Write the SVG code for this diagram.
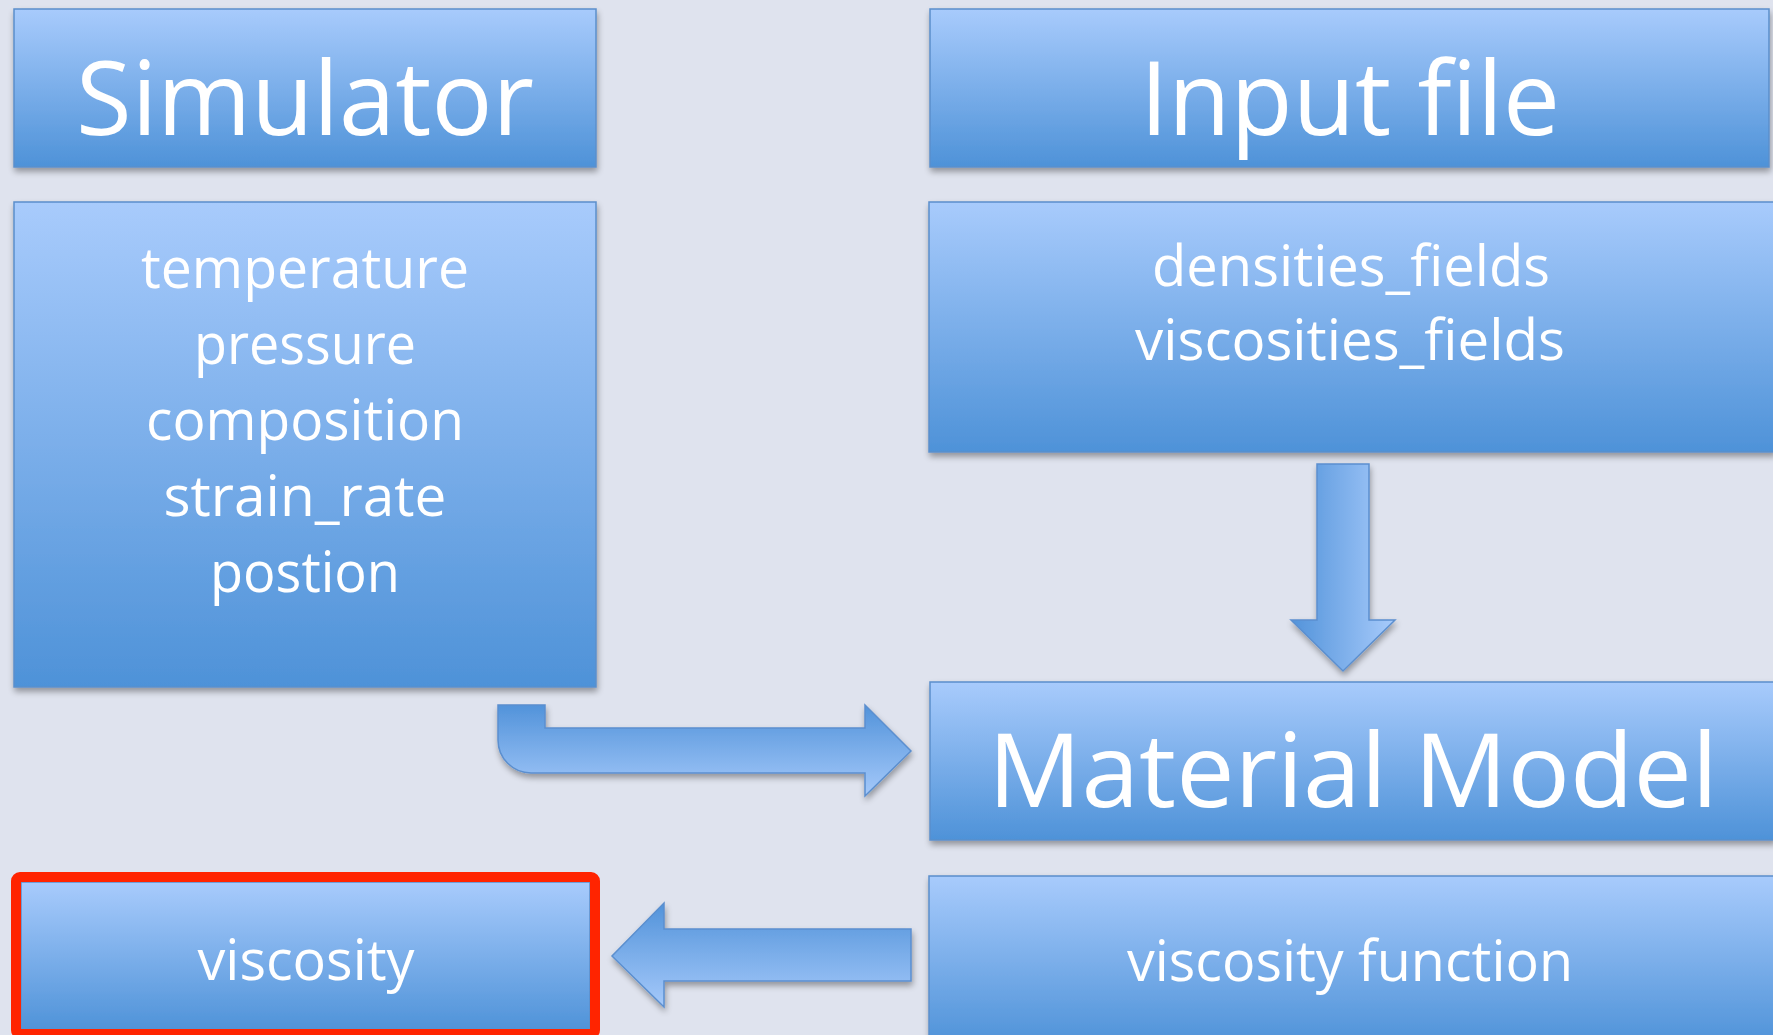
<svg xmlns="http://www.w3.org/2000/svg" width="1773" height="1035" viewBox="0 0 1773 1035">
<style>
.box{fill:url(#boxGrad);stroke:#5b8fcb;stroke-width:1.5;filter:url(#shadow)}
.arrow{stroke:#5b8fcf;stroke-width:1.5;filter:url(#shadow)}
.hdr{font-family:"Open Sans","Noto Sans","Liberation Sans",sans-serif;font-size:102px;fill:#ffffff;text-anchor:middle}
.txt{font-family:"Open Sans","Noto Sans","Liberation Sans",sans-serif;font-size:56px;fill:#ffffff;text-anchor:middle}
</style>
<defs>
<linearGradient id="boxGrad" x1="0" y1="0" x2="0" y2="1">
<stop offset="0" stop-color="#a8cbfc"/>
<stop offset="1" stop-color="#4e92d8"/>
</linearGradient>
<linearGradient id="arrV" x1="0" y1="0" x2="0" y2="1">
<stop offset="0" stop-color="#5293da"/>
<stop offset="1" stop-color="#a5c9fa"/>
</linearGradient>
<linearGradient id="arrH" x1="0" y1="0" x2="1" y2="0">
<stop offset="0" stop-color="#5293da"/>
<stop offset="1" stop-color="#a8cbfb"/>
</linearGradient>
<filter id="shadow" x="-5%" y="-5%" width="112%" height="120%">
<feGaussianBlur in="SourceAlpha" stdDeviation="3"/>
<feOffset dx="1" dy="4" result="b"/>
<feComponentTransfer><feFuncA type="linear" slope="0.35"/></feComponentTransfer>
<feMerge><feMergeNode/><feMergeNode in="SourceGraphic"/></feMerge>
</filter>
</defs>
<rect width="1773" height="1035" fill="#dfe3ee"/>

<g id="simulator-header">
<rect class="box" x="14" y="9" width="582" height="158"/>
<text class="hdr" x="305" y="135" textLength="458" lengthAdjust="spacingAndGlyphs">Simulator</text>
</g>
<g id="input-file-header">
<rect class="box" x="930" y="9" width="839" height="158"/>
<text class="hdr" x="1350" y="135" textLength="420" lengthAdjust="spacingAndGlyphs">Input file</text>
</g>
<g id="simulator-inputs">
<rect class="box" x="14" y="202" width="582" height="485"/>
<text class="txt" x="305" y="288" textLength="328" lengthAdjust="spacingAndGlyphs">temperature</text>
<text class="txt" x="305" y="364" textLength="222" lengthAdjust="spacingAndGlyphs">pressure</text>
<text class="txt" x="305" y="440" textLength="318" lengthAdjust="spacingAndGlyphs">composition</text>
<text class="txt" x="305" y="516" textLength="283" lengthAdjust="spacingAndGlyphs">strain_rate</text>
<text class="txt" x="305" y="592" textLength="190" lengthAdjust="spacingAndGlyphs">postion</text>
</g>
<g id="input-file-fields">
<rect class="box" x="929" y="202" width="846" height="250"/>
<text class="txt" x="1351" y="286" textLength="398" lengthAdjust="spacingAndGlyphs">densities_fields</text>
<text class="txt" x="1350" y="360" textLength="430" lengthAdjust="spacingAndGlyphs">viscosities_fields</text>
</g>
<g id="material-model">
<rect class="box" x="930" y="682" width="845" height="158"/>
<text class="hdr" x="1353" y="807" textLength="730" lengthAdjust="spacingAndGlyphs">Material Model</text>
</g>
<g id="viscosity-function">
<rect class="box" x="929" y="876" width="846" height="170"/>
<text class="txt" x="1350" y="981" textLength="446" lengthAdjust="spacingAndGlyphs">viscosity function</text>
</g>
<g id="viscosity">
<rect class="box" x="21" y="882" width="569" height="150"/>
<rect x="16" y="877" width="579" height="157" rx="4" fill="none" stroke="#ff2400" stroke-width="10"/>
<text class="txt" x="306" y="980" textLength="217" lengthAdjust="spacingAndGlyphs">viscosity</text>
</g>

<g id="connectors">
<path class="arrow" fill="url(#arrV)" d="M498,705 L545,705 L545,728 L865,728 L865,705 L911,751 L865,796 L865,773 L531,773 A33,33 0 0 1 498,740 Z"/>
<path class="arrow" fill="url(#arrH)" d="M1317,464 L1369,464 L1369,620 L1395,620 L1343,671 L1291,620 L1317,620 Z"/>
<path class="arrow" fill="url(#arrV)" d="M911,929 L911,981 L664,981 L664,1007 L612,956 L664,903 L664,929 Z"/>
</g>
</svg>
